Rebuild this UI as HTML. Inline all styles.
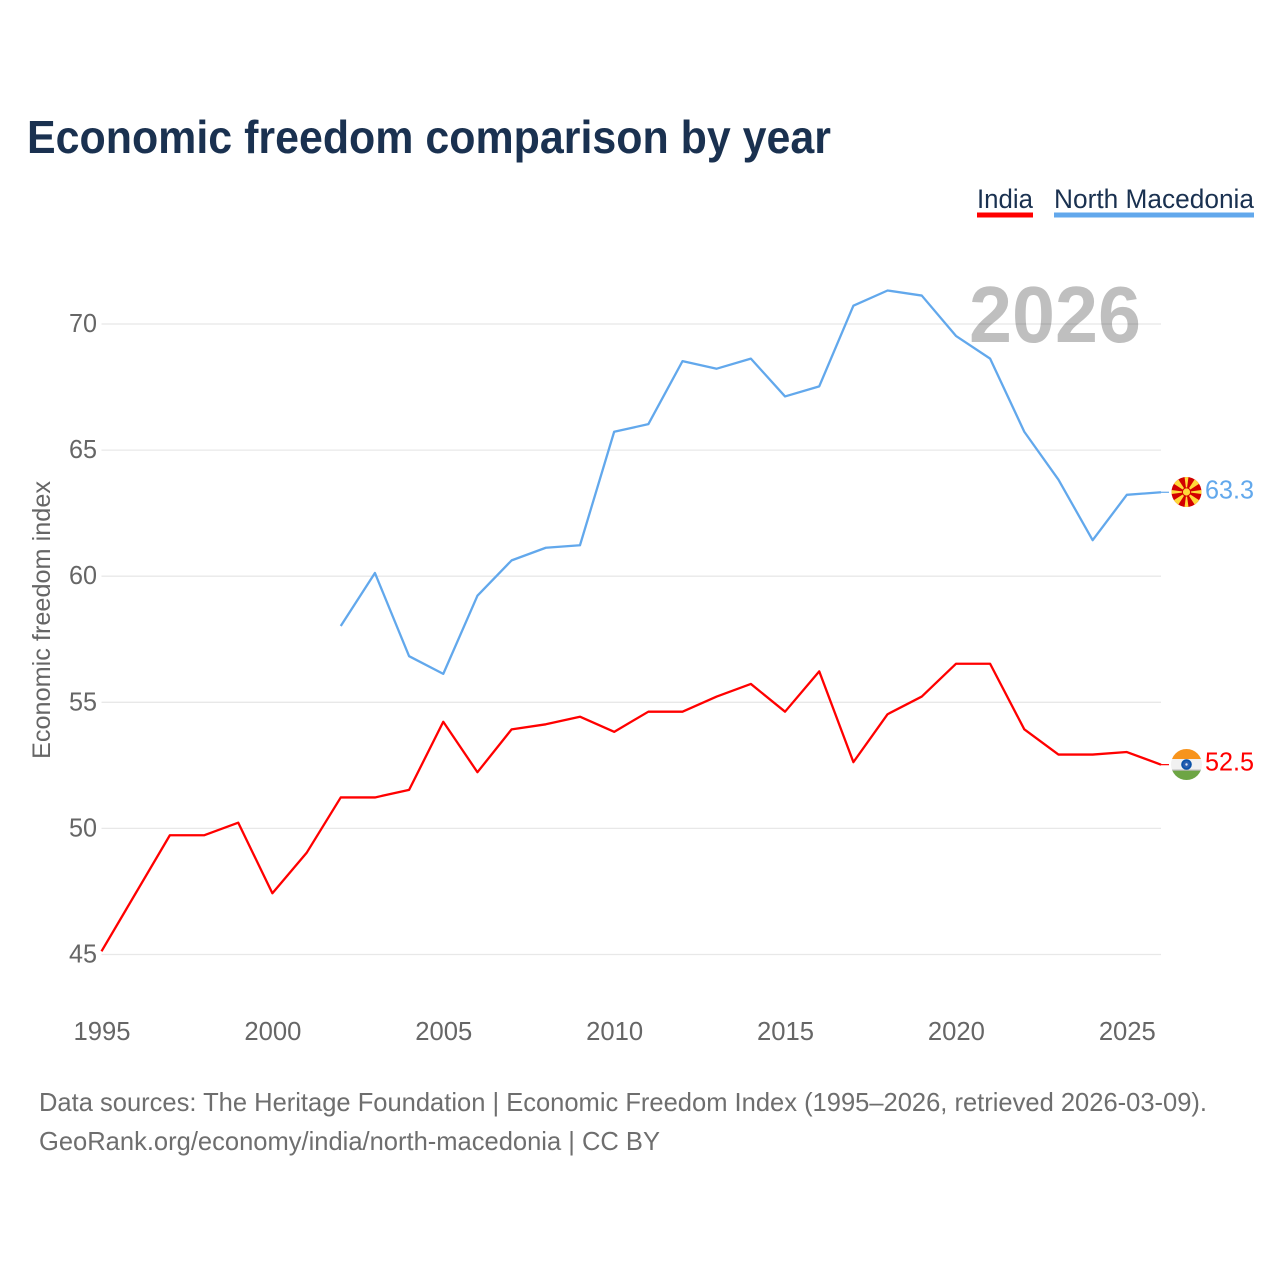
<!DOCTYPE html>
<html lang="en">
<head>
<meta charset="utf-8">
<title>Economic freedom comparison by year</title>
<style>
html,body{margin:0;padding:0;background:#fff;width:1280px;height:1280px;overflow:hidden}
svg{display:block}
text{font-family:"Liberation Sans",sans-serif}
</style>
</head>
<body>
<svg id="chart" width="1280" height="1280" viewBox="0 0 1280 1280" xmlns="http://www.w3.org/2000/svg">
  <defs>
    <clipPath id="mk-clip"><circle cx="1186.5" cy="492" r="15"/></clipPath>
    <clipPath id="in-clip"><circle cx="1186.5" cy="764.5" r="15.5"/></clipPath>
  </defs>
  <text x="27" y="153" font-size="46" font-weight="700" fill="#1a3150" textLength="804" lengthAdjust="spacingAndGlyphs">Economic freedom comparison by year</text>

  <g>
    <g>
      <text x="977" y="208" font-size="27" fill="#1a3150" textLength="56" lengthAdjust="spacingAndGlyphs">India</text>
      <rect x="977" y="212.5" width="56" height="5" fill="#ff0000"/>
    </g>
    <g>
      <text x="1054" y="208" font-size="27" fill="#1a3150" textLength="200" lengthAdjust="spacingAndGlyphs">North Macedonia</text>
      <rect x="1054" y="212.5" width="200" height="5" fill="#62a8ec"/>
    </g>
  </g>

  <g id="grid"></g>
  <text x="969" y="342" font-size="80" font-weight="700" fill="#000000" fill-opacity="0.25" textLength="172" lengthAdjust="spacingAndGlyphs">2026</text>
  <g id="y-axis"></g>
  <g id="x-axis"></g>
  <text transform="translate(50,620) rotate(-90)" text-anchor="middle" font-size="25" fill="#666666" textLength="278" lengthAdjust="spacingAndGlyphs">Economic freedom index</text>

  <g id="series" transform="translate(0,-0.7)"></g>

  <g>
    <g clip-path="url(#mk-clip)" id="mk-flag">
      <rect x="1170" y="476" width="33" height="32" fill="#d20000"/>
    </g>
  </g>
  <g clip-path="url(#in-clip)">
    <rect x="1170" y="748" width="33" height="11" fill="#f7941d"/>
    <rect x="1170" y="759" width="33" height="11" fill="#f1f1f1"/>
    <rect x="1170" y="770.5" width="33" height="11" fill="#6da544"/>
    <rect x="1170" y="769.5" width="33" height="1.2" fill="#bbbbbb"/>
    <circle cx="1186.5" cy="764.5" r="4.4" fill="#2a5fb0" stroke="#0b52a8" stroke-width="1.8"/>
    <circle cx="1186.5" cy="764.5" r="1.2" fill="#dfe7f2"/>
  </g>

  <text x="1205" y="498.5" font-size="26" fill="#62a8ec" textLength="49" lengthAdjust="spacingAndGlyphs">63.3</text>
  <text x="1205" y="770.5" font-size="26" fill="#ff0000" textLength="49" lengthAdjust="spacingAndGlyphs">52.5</text>

  <g>
    <text x="39" y="1111" font-size="26" fill="#6e6e6e" textLength="1168" lengthAdjust="spacingAndGlyphs">Data sources: The Heritage Foundation | Economic Freedom Index (1995–2026, retrieved 2026-03-09).</text>
    <text x="39" y="1150" font-size="26" fill="#6e6e6e" textLength="621" lengthAdjust="spacingAndGlyphs">GeoRank.org/economy/india/north-macedonia | CC BY</text>
  </g>
</svg>
<script>
const years = [1995,1996,1997,1998,1999,2000,2001,2002,2003,2004,2005,2006,2007,2008,2009,2010,2011,2012,2013,2014,2015,2016,2017,2018,2019,2020,2021,2022,2023,2024,2025,2026];
const indiaValues = [45.1,47.4,49.7,49.7,50.2,47.4,49.0,51.2,51.2,51.5,54.2,52.2,53.9,54.1,54.4,53.8,54.6,54.6,55.2,55.7,54.6,56.2,52.6,54.5,55.2,56.5,56.5,53.9,52.9,52.9,53.0,52.5];
const northMacedoniaValues = [null,null,null,null,null,null,null,58.0,60.1,56.8,56.1,59.2,60.6,61.1,61.2,65.7,66.0,68.5,68.2,68.6,67.1,67.5,70.7,71.3,71.1,69.5,68.6,65.7,63.8,61.4,63.2,63.3];
const yTickValues = [45,50,55,60,65,70];
const xTickValues = [1995,2000,2005,2010,2015,2020,2025];

const NS = 'http://www.w3.org/2000/svg';
function xScale(year){ return 101.5 + (year - 1995) * (1161 - 101.5) / 31; }
function yScale(value){ return 954.5 - (value - 45) * (954.5 - 324) / 25; }

const gridLayer = document.getElementById('grid');
const yLayer = document.getElementById('y-axis');
const xLayer = document.getElementById('x-axis');
const seriesLayer = document.getElementById('series');
const flagLayer = document.getElementById('mk-flag');

yTickValues.forEach(function(v){
  const line = document.createElementNS(NS,'line');
  
  
  line.setAttribute('x1', xScale(1995));
  line.setAttribute('x2', xScale(2026));
  line.setAttribute('y1', yScale(v));
  line.setAttribute('y2', yScale(v));
  line.setAttribute('stroke', '#e8e8e8');
  line.setAttribute('stroke-width', '1.3');
  gridLayer.appendChild(line);

  const label = document.createElementNS(NS,'text');
  
  
  label.setAttribute('x', 97);
  label.setAttribute('y', yScale(v) + 8);
  label.setAttribute('text-anchor', 'end');
  label.setAttribute('font-size', '26');
  label.setAttribute('fill', '#666666');
  label.setAttribute('textLength', '28');
  label.setAttribute('lengthAdjust', 'spacingAndGlyphs');
  label.textContent = String(v);
  yLayer.appendChild(label);
});

xTickValues.forEach(function(y){
  const label = document.createElementNS(NS,'text');
  
  
  label.setAttribute('x', xScale(y) + 0.5);
  label.setAttribute('y', 1040);
  label.setAttribute('text-anchor', 'middle');
  label.setAttribute('font-size', '26');
  label.setAttribute('fill', '#666666');
  label.setAttribute('textLength', '57');
  label.setAttribute('lengthAdjust', 'spacingAndGlyphs');
  label.textContent = String(y);
  xLayer.appendChild(label);
});

function linePath(values){
  let d = '';
  values.forEach(function(v,i){
    if (v === null) return;
    d += (d ? 'L' : 'M') + xScale(years[i]).toFixed(2) + ' ' + yScale(v).toFixed(2);
  });
  return d;
}

const indiaLine = document.createElementNS(NS,'path');


indiaLine.setAttribute('d', linePath(indiaValues));
indiaLine.setAttribute('fill', 'none');
indiaLine.setAttribute('stroke', '#ff0000');
indiaLine.setAttribute('stroke-width', '2.3');
indiaLine.setAttribute('stroke-linejoin', 'round');
seriesLayer.appendChild(indiaLine);

const mkLine = document.createElementNS(NS,'path');


mkLine.setAttribute('d', linePath(northMacedoniaValues));
mkLine.setAttribute('fill', 'none');
mkLine.setAttribute('stroke', '#62a8ec');
mkLine.setAttribute('stroke-width', '2.3');
mkLine.setAttribute('stroke-linejoin', 'round');
seriesLayer.appendChild(mkLine);

const indiaStub = document.createElementNS(NS,'line');


indiaStub.setAttribute('x1', xScale(2026));
indiaStub.setAttribute('x2', 1169);
indiaStub.setAttribute('y1', yScale(indiaValues[indiaValues.length-1]));
indiaStub.setAttribute('y2', yScale(indiaValues[indiaValues.length-1]));
indiaStub.setAttribute('stroke', '#ff0000');
indiaStub.setAttribute('stroke-width', '1.2');
seriesLayer.appendChild(indiaStub);

const mkStub = document.createElementNS(NS,'line');


mkStub.setAttribute('x1', xScale(2026));
mkStub.setAttribute('x2', 1169);
mkStub.setAttribute('y1', yScale(northMacedoniaValues[northMacedoniaValues.length-1]));
mkStub.setAttribute('y2', yScale(northMacedoniaValues[northMacedoniaValues.length-1]));
mkStub.setAttribute('stroke', '#62a8ec');
mkStub.setAttribute('stroke-width', '1.2');
seriesLayer.appendChild(mkStub);

for (let k = 0; k < 8; k++) {
  const a = k * Math.PI / 4;
  const w = (k % 2 === 0) ? 0.13 : 0.21;
  const cx = 1186.5, cy = 492, r = 22;
  const ray = document.createElementNS(NS,'polygon');
  
  
  ray.setAttribute('points',
    cx + ',' + cy + ' ' +
    (cx + r * Math.cos(a - w)) + ',' + (cy + r * Math.sin(a - w)) + ' ' +
    (cx + r * Math.cos(a + w)) + ',' + (cy + r * Math.sin(a + w)));
  ray.setAttribute('fill', '#ffd83a');
  flagLayer.appendChild(ray);
}
const sunRing = document.createElementNS(NS,'circle');


sunRing.setAttribute('cx', 1186.5);
sunRing.setAttribute('cy', 492);
sunRing.setAttribute('r', 4.6);
sunRing.setAttribute('fill', '#d20000');
flagLayer.appendChild(sunRing);
const sun = document.createElementNS(NS,'circle');


sun.setAttribute('cx', 1186.5);
sun.setAttribute('cy', 492);
sun.setAttribute('r', 3.6);
sun.setAttribute('fill', '#ffd83a');
flagLayer.appendChild(sun);
</script>
</body>
</html>
